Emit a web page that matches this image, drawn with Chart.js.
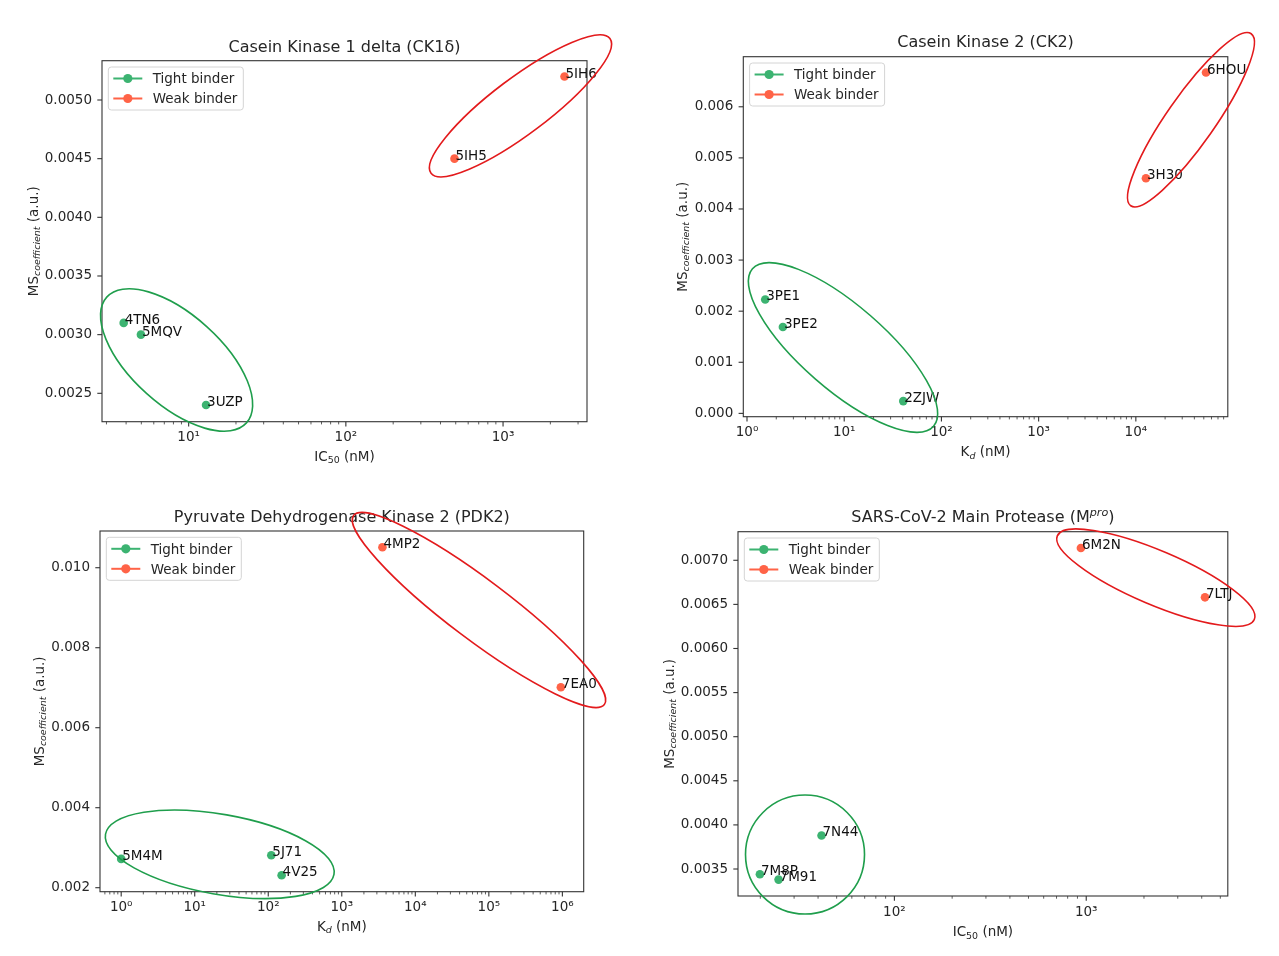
<!DOCTYPE html>
<html><head><meta charset="utf-8">
<script src="https://cdn.jsdelivr.net/npm/chart.js@4.4.1/dist/chart.umd.min.js"></script>
<style>
html,body{margin:0;padding:0;background:#fff;}
#wrap{position:relative;width:1279px;height:956px;overflow:hidden;background:#fff;}
canvas{position:absolute;}
</style></head><body><div id="wrap">
<canvas id="c1" width="640" height="478" style="left:0px;top:0px"></canvas>
<canvas id="c2" width="639" height="478" style="left:640px;top:0px"></canvas>
<canvas id="c3" width="640" height="478" style="left:0px;top:478px"></canvas>
<canvas id="c4" width="639" height="478" style="left:640px;top:478px"></canvas>
</div>
<script>
// ---------- DATA ----------
const ck1TightNames = ['4TN6', '5MQV', '3UZP'];
const ck1TightX = [3.86, 4.97, 12.9];
const ck1TightY = [0.0031, 0.0030, 0.0024];
const ck1WeakNames = ['5IH5', '5IH6'];
const ck1WeakX = [491, 2460];
const ck1WeakY = [0.0045, 0.0052];
const ck1YTicks = ['0.0025', '0.0030', '0.0035', '0.0040', '0.0045', '0.0050'];
const ck1XTicks = [10, 100, 1000];
const ck1XTickLabels = ['10¹', '10²', '10³'];

const ck2TightNames = ['3PE1', '3PE2', '2ZJW'];
const ck2TightX = [1.54, 2.34, 40.5];
const ck2TightY = [0.00223, 0.00169, 0.00024];
const ck2WeakNames = ['3H30', '6HOU'];
const ck2WeakX = [12700, 52700];
const ck2WeakY = [0.0046, 0.00667];
const ck2YTicks = ['0.000', '0.001', '0.002', '0.003', '0.004', '0.005', '0.006'];
const ck2XTicks = [1, 10, 100, 1000, 10000];
const ck2XTickLabels = ['10⁰', '10¹', '10²', '10³', '10⁴'];

const pdkTightNames = ['5M4M', '5J71', '4V25'];
const pdkTightX = [1.0, 110, 152];
const pdkTightY = [0.00272, 0.00281, 0.00231];
const pdkWeakNames = ['4MP2', '7EA0'];
const pdkWeakX = [3570, 953000];
const pdkWeakY = [0.01051, 0.00701];
const pdkYTicks = ['0.002', '0.004', '0.006', '0.008', '0.010'];
const pdkXTicks = [1, 10, 100, 1000, 10000, 100000, 1000000];
const pdkXTickLabels = ['10⁰', '10¹', '10²', '10³', '10⁴', '10⁵', '10⁶'];

const mproTightNames = ['7M8P', '7M91', '7N44'];
const mproTightX = [19.9, 24.9, 41.7];
const mproTightY = [0.00344, 0.00338, 0.00388];
const mproWeakNames = ['6M2N', '7LTJ'];
const mproWeakX = [938, 4160];
const mproWeakY = [0.00714, 0.00658];
const mproYTicks = ['0.0035', '0.0040', '0.0045', '0.0050', '0.0055', '0.0060', '0.0065', '0.0070'];
const mproXTicks = [100, 1000];
const mproXTickLabels = ['10²', '10³'];

const seriesLabels = ['Tight binder', 'Weak binder'];

// ---------- STYLE ----------
const FONT = 'DejaVu Sans';
const TXT = '#262626';
const GREEN = '#3cb371', RED = '#ff6347';
const EL_GREEN = '#1f9e4c', EL_RED = '#e31a1c';
const FS = 13.5;

Chart.defaults.font.family = FONT;

const IC50 = [{t: 'IC'}, {t: '50', sub: true}, {t: ' (nM)'}];
const KD = [{t: 'K'}, {t: 'd', sub: true, it: true}, {t: ' (nM)'}];
const MSLAB = [{t: 'MS'}, {t: 'coefficient', sub: true, it: true}, {t: ' (a.u.)'}];

const panels = [
  {id: 'c1', W: 640, H: 478, L: 102, T: 60.7, R: 587, B: 421.7,
   xMin: 2.81, xMax: 3420, yMin: 0.002258, yMax: 0.005335,
   title: [{t: 'Casein Kinase 1 delta (CK1δ)'}], titleY: 46.7,
   xLabel: IC50, xLabelY: 456, yLabelX: 33,
   tight: {names: ck1TightNames, x: ck1TightX, y: ck1TightY},
   weak: {names: ck1WeakNames, x: ck1WeakX, y: ck1WeakY},
   yTicks: ck1YTicks, xTicks: ck1XTicks, xTickLabels: ck1XTickLabels,
   ellipses: [{x: 1291, y: 0.00495, rx: 112, ry: 28, a: -37, c: EL_RED},
              {x: 8.38, y: 0.002784, rx: 94, ry: 45, a: 42, c: EL_GREEN}]},
  {id: 'c2', W: 639, H: 478, L: 103.3, T: 56.7, R: 587.8, B: 416.7,
   xMin: 0.916, xMax: 88300, yMin: -0.000065, yMax: 0.00698,
   title: [{t: 'Casein Kinase 2 (CK2)'}], titleY: 41.7,
   xLabel: KD, xLabelY: 451.7, yLabelX: 42,
   tight: {names: ck2TightNames, x: ck2TightX, y: ck2TightY},
   weak: {names: ck2WeakNames, x: ck2WeakX, y: ck2WeakY},
   yTicks: ck2YTicks, xTicks: ck2XTicks, xTickLabels: ck2XTickLabels,
   ellipses: [{x: 36900, y: 0.005746, rx: 105, ry: 24, a: -55, c: EL_RED},
              {x: 9.72, y: 0.00129, rx: 120, ry: 42, a: 41, c: EL_GREEN}]},
  {id: 'c3', W: 640, H: 478, L: 100, T: 53, R: 583.7, B: 413.7,
   xMin: 0.515, xMax: 1950000, yMin: 0.0019, yMax: 0.010918,
   title: [{t: 'Pyruvate Dehydrogenase Kinase 2 (PDK2)'}], titleY: 38.7,
   xLabel: KD, xLabelY: 448, yLabelX: 39,
   tight: {names: pdkTightNames, x: pdkTightX, y: pdkTightY},
   weak: {names: pdkWeakNames, x: pdkWeakX, y: pdkWeakY},
   yTicks: pdkYTicks, xTicks: pdkXTicks, xTickLabels: pdkXTickLabels,
   ellipses: [{x: 73400, y: 0.008943, rx: 157, ry: 30, a: 37, c: EL_RED},
              {x: 21.9, y: 0.002835, rx: 116, ry: 40, a: 10, c: EL_GREEN}]},
  {id: 'c4', W: 639, H: 478, L: 98, T: 53.7, R: 587.8, B: 418,
   xMin: 15.3, xMax: 5470, yMin: 0.003194, yMax: 0.007324,
   title: [{t: 'SARS-CoV-2 Main Protease (M'}, {t: 'pro', sup: true, it: true}, {t: ')'}], titleY: 38.7,
   xLabel: IC50, xLabelY: 453.7, yLabelX: 29,
   tight: {names: mproTightNames, x: mproTightX, y: mproTightY},
   weak: {names: mproWeakNames, x: mproWeakX, y: mproWeakY},
   yTicks: mproYTicks, xTicks: mproXTicks, xTickLabels: mproXTickLabels,
   ellipses: [{x: 2305, y: 0.006803, rx: 107, ry: 27, a: 23, c: EL_RED},
              {x: 34.2, y: 0.003664, rx: 59.5, ry: 59.5, a: 0, c: EL_GREEN}]}
];

// ---------- HELPERS ----------
function segFont(s, size) {
  const sz = (s.sub || s.sup) ? size * 0.7 : size;
  return (s.it ? 'italic ' : '') + sz + 'px "' + FONT + '"';
}
function richWidth(ctx, segs, size) {
  let w = 0;
  segs.forEach(s => { ctx.font = segFont(s, size); w += ctx.measureText(s.t).width; });
  return w;
}
function drawRich(ctx, segs, cx, baseY, size) {
  const w = richWidth(ctx, segs, size);
  let x = cx - w / 2;
  ctx.textAlign = 'left';
  ctx.textBaseline = 'alphabetic';
  segs.forEach(s => {
    ctx.font = segFont(s, size);
    const dy = s.sub ? size * 0.2 : (s.sup ? -size * 0.42 : 0);
    ctx.fillText(s.t, x, baseY + dy);
    x += ctx.measureText(s.t).width;
  });
}
function logTicks(min, max, majors) {
  const out = [];
  const e0 = Math.floor(Math.log10(min)), e1 = Math.ceil(Math.log10(max));
  for (let e = e0; e <= e1; e++) {
    for (let m = 1; m <= 9; m++) {
      const v = m * Math.pow(10, e);
      if (v >= min && v <= max) out.push({value: v, major: majors.some(t => Math.abs(t - v) / t < 1e-9)});
    }
  }
  return out;
}

function makePlugin(p) {
  return {
    id: 'deco_' + p.id,
    beforeDatasetsDraw(chart) {
      const ctx = chart.ctx, a = chart.chartArea, xs = chart.scales.x, ys = chart.scales.y;
      ctx.save();
      ctx.strokeStyle = '#333';
      ys.ticks.forEach(t => {
        const py = ys.getPixelForValue(t.value);
        ctx.lineWidth = 1.1;
        ctx.beginPath(); ctx.moveTo(a.left, py); ctx.lineTo(a.left - 4.7, py); ctx.stroke();
      });
      xs.ticks.forEach(t => {
        const px = xs.getPixelForValue(t.value);
        ctx.lineWidth = t.major ? 1.1 : 0.8;
        ctx.beginPath(); ctx.moveTo(px, a.bottom); ctx.lineTo(px, a.bottom + (t.major ? 4.7 : 2.7)); ctx.stroke();
      });
      ctx.lineWidth = 1.1;
      ctx.strokeRect(a.left, a.top, a.right - a.left, a.bottom - a.top);
      ctx.restore();
    },
    afterDraw(chart) {
      const ctx = chart.ctx, a = chart.chartArea, xs = chart.scales.x, ys = chart.scales.y;
      ctx.save();
      // point labels
      ctx.fillStyle = '#111';
      ctx.font = FS + 'px "' + FONT + '"';
      ctx.textAlign = 'left'; ctx.textBaseline = 'alphabetic';
      chart.data.datasets.forEach((ds, i) => {
        const meta = chart.getDatasetMeta(i);
        meta.data.forEach((el, j) => { ctx.fillText(ds.names[j], el.x + 1, el.y + 1); });
      });
      // legend
      const lx = a.left + 6.3, ly = a.top + 6.3, lw = 135, lh = 43;
      ctx.beginPath();
      if (ctx.roundRect) ctx.roundRect(lx, ly, lw, lh, 3); else ctx.rect(lx, ly, lw, lh);
      ctx.fillStyle = 'rgba(255,255,255,0.85)'; ctx.fill();
      ctx.strokeStyle = '#d4d4d4'; ctx.lineWidth = 1; ctx.stroke();
      chart.data.datasets.forEach((ds, i) => {
        const ry = ly + 11.5 + i * 20;
        ctx.strokeStyle = ds.backgroundColor; ctx.lineWidth = 2;
        ctx.beginPath(); ctx.moveTo(lx + 5, ry); ctx.lineTo(lx + 34, ry); ctx.stroke();
        ctx.fillStyle = ds.backgroundColor;
        ctx.beginPath(); ctx.arc(lx + 19.5, ry, 4.6, 0, Math.PI * 2); ctx.fill();
        ctx.fillStyle = TXT;
        ctx.font = FS + 'px "' + FONT + '"';
        ctx.textAlign = 'left'; ctx.textBaseline = 'alphabetic';
        ctx.fillText(ds.label, lx + 44.4, ry + 4.8);
      });
      // title
      ctx.fillStyle = TXT;
      drawRich(ctx, p.title, (a.left + a.right) / 2, p.titleY + 5.6, 16);
      // x label
      drawRich(ctx, p.xLabel, (a.left + a.right) / 2, p.xLabelY + 4.6, FS);
      // y label
      ctx.save();
      ctx.translate(p.yLabelX + 4.6, (a.top + a.bottom) / 2);
      ctx.rotate(-Math.PI / 2);
      drawRich(ctx, MSLAB, 0, 0, FS);
      ctx.restore();
      // ellipses
      p.ellipses.forEach(e => {
        const cx = xs.getPixelForValue(e.x), cy = ys.getPixelForValue(e.y);
        ctx.strokeStyle = e.c; ctx.lineWidth = 1.6;
        ctx.beginPath();
        ctx.ellipse(cx, cy, e.rx, e.ry, e.a * Math.PI / 180, 0, Math.PI * 2);
        ctx.stroke();
      });
      ctx.restore();
    }
  };
}

function buildChart(p) {
  const toPts = (xv, yv) => xv.map((x, i) => ({x: x, y: yv[i]}));
  const yVals = p.yTicks.map(Number);
  new Chart(document.getElementById(p.id), {
    type: 'scatter',
    data: {datasets: [
      {label: seriesLabels[0], data: toPts(p.tight.x, p.tight.y), names: p.tight.names,
       backgroundColor: GREEN, borderColor: GREEN, pointRadius: 4.3, pointHoverRadius: 4.3, pointBorderWidth: 0},
      {label: seriesLabels[1], data: toPts(p.weak.x, p.weak.y), names: p.weak.names,
       backgroundColor: RED, borderColor: RED, pointRadius: 4.3, pointHoverRadius: 4.3, pointBorderWidth: 0}
    ]},
    options: {
      responsive: false, animation: false, devicePixelRatio: 1, events: [],
      layout: {padding: {left: 0, top: p.T, right: p.W - p.R, bottom: 0}},
      plugins: {legend: {display: false}, title: {display: false}, tooltip: {enabled: false}},
      scales: {
        x: {type: 'logarithmic', min: p.xMin, max: p.xMax, bounds: 'data',
            grid: {display: false, drawTicks: false}, border: {display: false},
            afterBuildTicks: s => { s.ticks = logTicks(p.xMin, p.xMax, p.xTicks); },
            afterFit: s => { s.height = p.H - p.B; },
            ticks: {autoSkip: false, maxRotation: 0, minRotation: 0, padding: 8, color: TXT,
                    font: {family: FONT, size: FS},
                    callback: v => {
                      const k = p.xTicks.findIndex(t => Math.abs(t - v) / t < 1e-9);
                      return k >= 0 ? p.xTickLabels[k] : '';
                    }}},
        y: {type: 'linear', min: p.yMin, max: p.yMax, bounds: 'data',
            grid: {display: false, drawTicks: false}, border: {display: false},
            afterBuildTicks: s => { s.ticks = yVals.map(v => ({value: v})); },
            afterFit: s => { s.width = p.L; },
            ticks: {autoSkip: false, padding: 10, color: TXT, font: {family: FONT, size: FS},
                    callback: (v, i) => p.yTicks[i]}}
      }
    },
    plugins: [makePlugin(p)]
  });
}

panels.forEach(buildChart);
</script>
</body></html>
